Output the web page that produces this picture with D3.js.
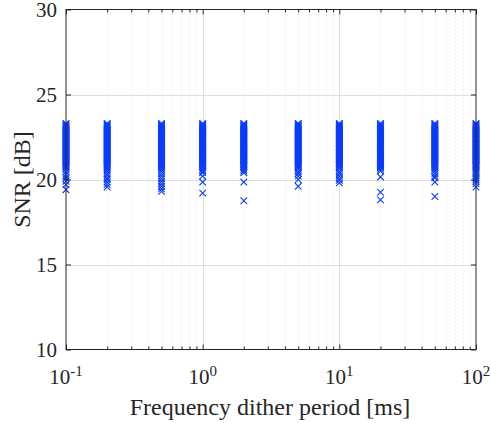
<!DOCTYPE html>
<html>
<head>
<meta charset="utf-8">
<script src="https://cdn.jsdelivr.net/npm/d3@7/dist/d3.min.js"></script>
<style>
  html, body { margin: 0; padding: 0; background: #fff; }
  svg { display: block; }
  text { font-family: "Liberation Serif", "Times New Roman", serif; fill: #262626; }
</style>
</head>
<body>
<svg id="chart" width="491" height="423"></svg>
<script>
// ---- data ----
const periods = [0.1, 0.2, 0.5, 1, 2, 5, 10, 20, 50, 100];
const xMajorTicks = [0.1, 1, 10, 100];
const xTickExponents = ["-1", "0", "1", "2"];
const yTicks = [10, 15, 20, 25, 30];
// dense band of SNR values common to every period
const bandSNR = [23.3, 23.25, 23.2, 23.15, 23.1, 23.05, 23.0, 22.95, 22.9, 22.85,
  22.8, 22.75, 22.7, 22.65, 22.6, 22.55, 22.5, 22.45, 22.4, 22.35, 22.3, 22.25,
  22.2, 22.15, 22.1, 22.05, 22.0, 21.95, 21.9, 21.85, 21.8, 21.75, 21.7, 21.65,
  21.6, 21.55, 21.5, 21.45, 21.4, 21.35, 21.3, 21.25, 21.2, 21.15, 21.1, 21.05,
  21.0, 20.95, 20.9, 20.85, 20.8, 20.75, 20.7];
// lower tails per period
const tail01 = [20.6, 20.45, 20.3, 20.15, 20.05, 19.9, 19.7, 19.4];
const tail02 = [20.6, 20.5, 20.35, 20.25, 20.1, 20.0, 19.85, 19.7, 19.55];
const tail05 = [20.6, 20.5, 20.35, 20.2, 20.05, 19.9, 19.75, 19.6, 19.45, 19.3];
const tail1 = [20.6, 20.5, 20.4, 20.2, 19.85, 19.2];
const tail2 = [20.6, 20.5, 20.4, 19.85, 18.75];
const tail5 = [20.6, 20.45, 20.35, 20.2, 20.0, 19.6];
const tail10 = [20.6, 20.45, 20.35, 20.2, 20.05, 19.95, 19.8];
const tail20 = [20.6, 20.5, 20.15, 19.25, 18.8];
const tail50 = [20.6, 20.5, 20.35, 20.2, 20.1, 19.85, 19.0];
const tail100 = [20.6, 20.5, 20.4, 20.3, 20.2, 20.1, 20.0, 19.9, 19.75, 19.55];
const tails = [tail01, tail02, tail05, tail1, tail2, tail5, tail10, tail20, tail50, tail100];

// ---- layout ----
const L = 66, R = 476, T = 9.5, B = 349.5;
const svg = d3.select("#chart");
const x = d3.scaleLog().domain([0.1, 100]).range([L, R]);
const y = d3.scaleLinear().domain([10, 30]).range([B, T]);
const axisColor = "#262626";
const gridColor = "#dedede";

// minor x values
const xMinor = [];
[0.1, 1, 10].forEach(d => { for (let k = 2; k <= 9; k++) xMinor.push(+(d * k).toPrecision(3)); });

// grid
const grid = svg.append("g");
grid.selectAll(".mg").data(xMinor).join("line")
  .attr("x1", d => Math.round(x(d)) + 0.5).attr("x2", d => Math.round(x(d)) + 0.5)
  .attr("y1", T).attr("y2", B)
  .attr("stroke", gridColor).attr("stroke-width", 1).attr("stroke-dasharray", "1,3");
grid.selectAll(".Mx").data(xMajorTicks.slice(1, -1)).join("line")
  .attr("x1", d => Math.round(x(d)) + 0.5).attr("x2", d => Math.round(x(d)) + 0.5)
  .attr("y1", T).attr("y2", B)
  .attr("stroke", gridColor).attr("stroke-width", 1);
grid.selectAll(".My").data(yTicks.slice(1, -1)).join("line")
  .attr("x1", L).attr("x2", R)
  .attr("y1", d => Math.round(y(d)) + 0.5).attr("y2", d => Math.round(y(d)) + 0.5)
  .attr("stroke", gridColor).attr("stroke-width", 1);

// data points (x markers)
const pts = [];
periods.forEach((p, i) => {
  bandSNR.forEach(v => pts.push([p, v]));
  tails[i].forEach(v => pts.push([p, v]));
});
const s = 3.3;
const mark = svg.append("g").attr("stroke", "#0a3cff").attr("stroke-width", 1.1).attr("fill", "none");
mark.selectAll("path").data(pts).join("path")
  .attr("d", d => {
    const cx = x(d[0]), cy = y(d[1]);
    return `M${cx - s},${cy - s}L${cx + s},${cy + s}M${cx - s},${cy + s}L${cx + s},${cy - s}`;
  });

// axes (ticks inside)
function styleAxis(g) {
  g.select(".domain").remove();
  g.selectAll("line").attr("stroke", axisColor);
  g.selectAll("text").remove();
}
svg.append("g").attr("transform", `translate(0,${B})`)
  .call(d3.axisBottom(x).tickValues(xMajorTicks).tickSize(-5).tickFormat("")).call(styleAxis);
svg.append("g").attr("transform", `translate(0,${B})`)
  .call(d3.axisBottom(x).tickValues(xMinor).tickSize(-3).tickFormat("")).call(styleAxis);
svg.append("g").attr("transform", `translate(0,${T})`)
  .call(d3.axisTop(x).tickValues(xMajorTicks).tickSize(-5).tickFormat("")).call(styleAxis);
svg.append("g").attr("transform", `translate(0,${T})`)
  .call(d3.axisTop(x).tickValues(xMinor).tickSize(-3).tickFormat("")).call(styleAxis);
svg.append("g").attr("transform", `translate(${L},0)`)
  .call(d3.axisLeft(y).tickValues(yTicks).tickSize(-5).tickFormat("")).call(styleAxis);
svg.append("g").attr("transform", `translate(${R},0)`)
  .call(d3.axisRight(y).tickValues(yTicks).tickSize(-5).tickFormat("")).call(styleAxis);

// box
svg.append("rect").attr("x", L).attr("y", T).attr("width", R - L).attr("height", B - T)
  .attr("fill", "none").attr("stroke", axisColor).attr("stroke-width", 1);

// y tick labels
svg.append("g").selectAll("text").data(yTicks).join("text")
  .attr("x", L - 9).attr("y", d => y(d)).attr("dy", "0.35em")
  .attr("text-anchor", "end").attr("font-size", 21).text(d => d);

// x tick labels with superscripts
const xl = svg.append("g").selectAll("text").data(xMajorTicks).join("text")
  .attr("x", d => x(d)).attr("y", B + 34)
  .attr("text-anchor", "middle").attr("font-size", 21);
xl.append("tspan").text("10");
xl.append("tspan").attr("dy", -8).attr("font-size", 15).text((d, i) => xTickExponents[i]);

// axis titles
svg.append("text").attr("x", (L + R) / 2 - 1).attr("y", 415)
  .attr("text-anchor", "middle").attr("font-size", 24).text("Frequency dither period [ms]");
svg.append("text").attr("transform", `translate(30,${(T + B) / 2}) rotate(-90)`)
  .attr("text-anchor", "middle").attr("font-size", 24).text("SNR [dB]");
</script>
</body>
</html>
